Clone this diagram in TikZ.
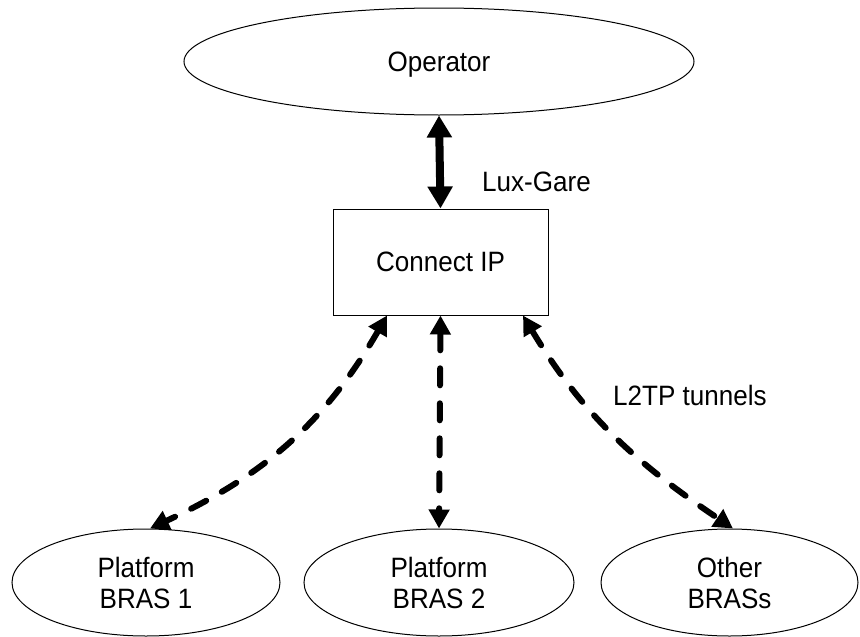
\documentclass[tikz,border=0pt]{standalone}
\usepackage{fontspec}
\setmainfont{Liberation Sans}[FakeStretch=0.93]
\usetikzlibrary{shapes.geometric,arrows.meta,calc}
\begin{document}
\begin{tikzpicture}[x=1pt,y=-1pt,
  every node/.style={font=\fontsize{28}{31}\selectfont},
  oval/.style={draw, ellipse, line width=1pt, inner sep=0pt, minimum height=107pt, align=center},
  boxnode/.style={draw, rectangle, line width=1pt, minimum width=215pt, minimum height=106pt, text depth=0pt},
  solidarrow/.style={line width=8pt, {Triangle[width=24pt,length=22pt]}-{Triangle[width=24pt,length=22pt]}},
  dasharrow/.style={line width=6pt, line cap=round, dash pattern=on 17pt off 18pt, {Triangle[width=20pt,length=19pt]}-{Triangle[width=20pt,length=19pt]}},
  lbl/.style={anchor=west, inner sep=0pt}]
\useasboundingbox (0,0) rectangle (860,637);
\node[oval, minimum width=510pt, text depth=0pt] (op) at (439,61.5) {Operator};
\node[boxnode] (cip) at (440.5,262) {Connect IP};
\node[oval, minimum width=268pt] (b1) at (146,582.5) {Platform\\BRAS 1};
\node[oval, minimum width=270pt] (b2) at (439,582.5) {Platform\\BRAS 2};
\node[oval, minimum width=257pt] (b3) at (729.5,582.5) {Other\\BRASs};
\draw[solidarrow] (op.south) -- (cip.north);
\draw[dasharrow] ([xshift=-53.5pt]cip.south) to[out=-120,in=25] ([xshift=4pt]b1.north);
\draw[dasharrow] (cip.south) -- (b2.north);
\draw[dasharrow] ([xshift=82.5pt]cip.south) to[out=-59,in=146] ([xshift=3.5pt]b3.north);
\node[lbl] (lux) at (482,182) {Lux-Gare};
\node[lbl] (l2tp) at (613,395) {L2TP tunnels};
\end{tikzpicture}
\end{document}
